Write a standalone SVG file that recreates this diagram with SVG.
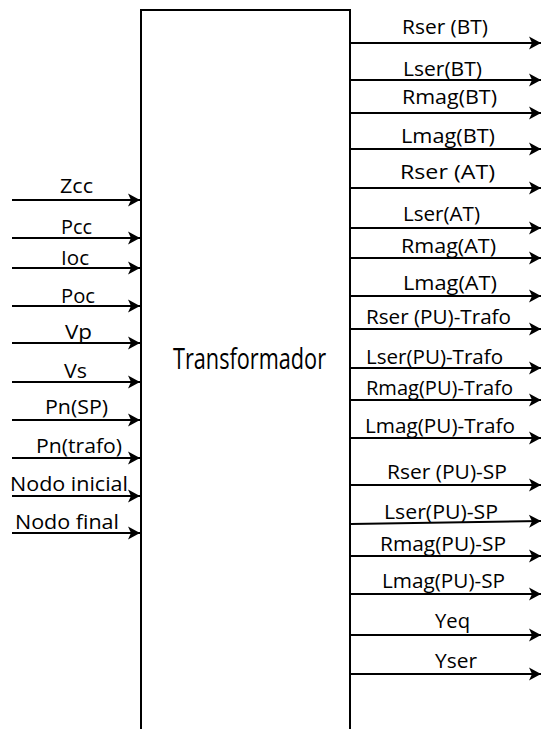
<svg xmlns="http://www.w3.org/2000/svg" width="543" height="729" viewBox="0 0 543 729">
<style>
.t{font-family:"Open Sans","Liberation Sans",sans-serif;font-size:20px;fill:#000}
.big{font-family:"Open Sans","Liberation Sans",sans-serif;font-size:30px;fill:#000}
.c{stroke:#000;stroke-width:2;fill:none;marker-end:url(#ah)}
.box{stroke:#000;stroke-width:2;fill:#fff}
</style>
<defs>
<marker id="ah" viewBox="-13 -7 14 14" refX="0" refY="0" markerWidth="14" markerHeight="14" markerUnits="userSpaceOnUse" orient="auto">
<path d="M0,0 L-12,-6.5 L-9,0 L-12,6.5 Z" fill="#000"/>
</marker>
</defs>
<rect width="543" height="729" fill="#fff"/>
<g id="transformador">
<path class="box" d="M141,740 V10 H350 V740"/>
<text class="big" transform="translate(173,369) scale(0.74,1)" x="0" y="0" textLength="206.8" lengthAdjust="spacingAndGlyphs">Transformador</text>
</g>
<g id="connectors">
<line class="c" x1="12" y1="200" x2="140" y2="200"/>
<line class="c" x1="12" y1="238" x2="140" y2="238"/>
<line class="c" x1="12" y1="268" x2="140" y2="268"/>
<line class="c" x1="12" y1="306" x2="140" y2="306"/>
<line class="c" x1="12" y1="343" x2="140" y2="343"/>
<line class="c" x1="12" y1="382" x2="140" y2="382"/>
<line class="c" x1="12" y1="420" x2="140" y2="420"/>
<line class="c" x1="12" y1="458" x2="140" y2="458"/>
<line class="c" x1="12" y1="496" x2="140" y2="496"/>
<line class="c" x1="12" y1="533" x2="140" y2="533"/>
<line class="c" x1="351" y1="43" x2="541" y2="43"/>
<line class="c" x1="351" y1="80" x2="541" y2="80"/>
<line class="c" x1="351" y1="113" x2="541" y2="113"/>
<line class="c" x1="351" y1="149" x2="541" y2="149"/>
<line class="c" x1="351" y1="188" x2="541" y2="188"/>
<line class="c" x1="351" y1="228" x2="541" y2="228"/>
<line class="c" x1="351" y1="258" x2="541" y2="258"/>
<line class="c" x1="351" y1="296" x2="541" y2="296"/>
<line class="c" x1="351" y1="329" x2="541" y2="329"/>
<line class="c" x1="351" y1="368" x2="541" y2="368"/>
<line class="c" x1="351" y1="400" x2="541" y2="400"/>
<line class="c" x1="351" y1="438" x2="541" y2="438"/>
<line class="c" x1="351" y1="485" x2="541" y2="485"/>
<line class="c" x1="351" y1="524" x2="541" y2="521"/>
<line class="c" x1="351" y1="556" x2="541" y2="556"/>
<line class="c" x1="351" y1="594" x2="541" y2="594"/>
<line class="c" x1="351" y1="635" x2="541" y2="635"/>
<line class="c" x1="351" y1="674" x2="541" y2="674"/>
</g>
<g id="in-labels">
<text class="t" x="60" y="193" textLength="33" lengthAdjust="spacingAndGlyphs">Zcc</text>
<text class="t" x="61" y="234" textLength="31" lengthAdjust="spacingAndGlyphs">Pcc</text>
<text class="t" x="61" y="265" textLength="28" lengthAdjust="spacingAndGlyphs">Ioc</text>
<text class="t" x="61" y="303" textLength="34" lengthAdjust="spacingAndGlyphs">Poc</text>
<text class="t" x="65" y="339" textLength="27" lengthAdjust="spacingAndGlyphs">Vp</text>
<text class="t" x="64" y="378" textLength="23" lengthAdjust="spacingAndGlyphs">Vs</text>
<text class="t" x="45" y="414" textLength="63" lengthAdjust="spacingAndGlyphs">Pn(SP)</text>
<text class="t" x="36" y="453" textLength="86" lengthAdjust="spacingAndGlyphs">Pn(trafo)</text>
<text class="t" x="10" y="491" textLength="118" lengthAdjust="spacingAndGlyphs">Nodo inicial</text>
<text class="t" x="15" y="529" textLength="104" lengthAdjust="spacingAndGlyphs">Nodo final</text>
</g>
<g id="out-labels">
<text class="t" x="402" y="34" textLength="86" lengthAdjust="spacingAndGlyphs">Rser (BT)</text>
<text class="t" x="403" y="76" textLength="79" lengthAdjust="spacingAndGlyphs">Lser(BT)</text>
<text class="t" x="402" y="104" textLength="95" lengthAdjust="spacingAndGlyphs">Rmag(BT)</text>
<text class="t" x="401" y="143" textLength="94" lengthAdjust="spacingAndGlyphs">Lmag(BT)</text>
<text class="t" x="400" y="179" textLength="95" lengthAdjust="spacingAndGlyphs">Rser (AT)</text>
<text class="t" x="403" y="221" textLength="77" lengthAdjust="spacingAndGlyphs">Lser(AT)</text>
<text class="t" x="401" y="253" textLength="95" lengthAdjust="spacingAndGlyphs">Rmag(AT)</text>
<text class="t" x="403" y="290" textLength="94" lengthAdjust="spacingAndGlyphs">Lmag(AT)</text>
<text class="t" x="366" y="324" textLength="145" lengthAdjust="spacingAndGlyphs">Rser (PU)-Trafo</text>
<text class="t" x="366" y="364" textLength="137" lengthAdjust="spacingAndGlyphs">Lser(PU)-Trafo</text>
<text class="t" x="366" y="395" textLength="147" lengthAdjust="spacingAndGlyphs">Rmag(PU)-Trafo</text>
<text class="t" x="365" y="433" textLength="150" lengthAdjust="spacingAndGlyphs">Lmag(PU)-Trafo</text>
<text class="t" x="387" y="479" textLength="120" lengthAdjust="spacingAndGlyphs">Rser (PU)-SP</text>
<text class="t" x="384" y="519" textLength="114" lengthAdjust="spacingAndGlyphs">Lser(PU)-SP</text>
<text class="t" x="380" y="551" textLength="126" lengthAdjust="spacingAndGlyphs">Rmag(PU)-SP</text>
<text class="t" x="382" y="588" textLength="123" lengthAdjust="spacingAndGlyphs">Lmag(PU)-SP</text>
<text class="t" x="435" y="628" textLength="35" lengthAdjust="spacingAndGlyphs">Yeq</text>
<text class="t" x="435" y="668" textLength="42" lengthAdjust="spacingAndGlyphs">Yser</text>
</g>
</svg>
